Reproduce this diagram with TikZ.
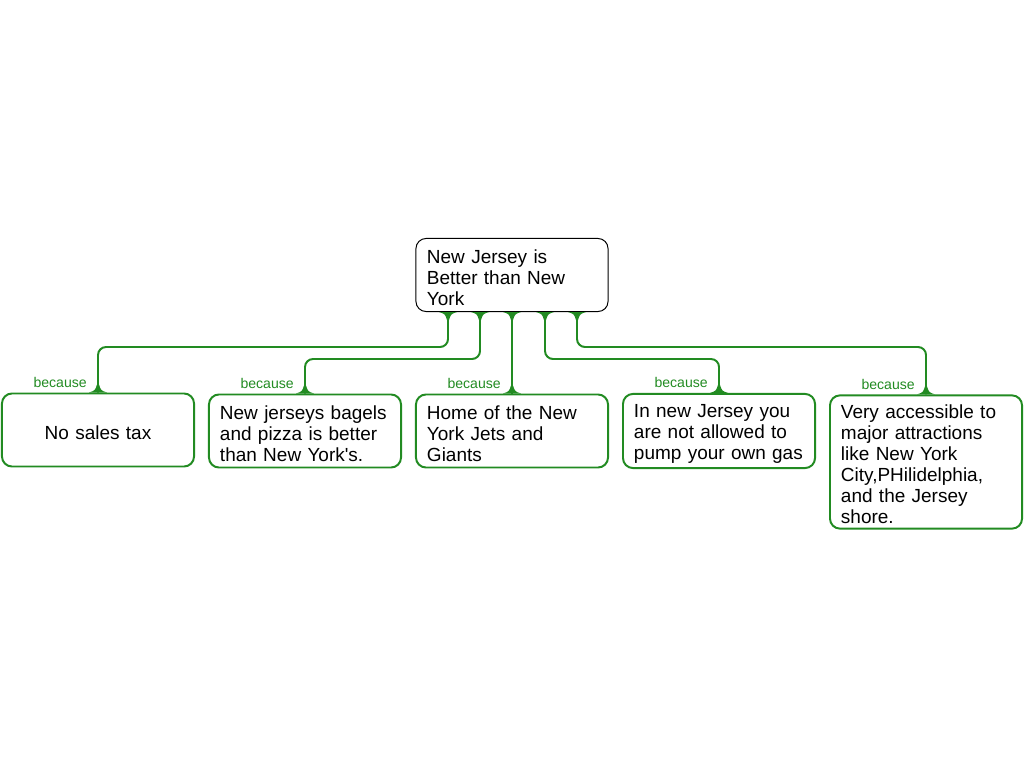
\documentclass[tikz,border=0pt]{standalone}
\usepackage{fontspec}
\setmainfont{Liberation Sans}
\usetikzlibrary{calc}
\definecolor{linkgreen}{RGB}{34,139,34}
\tikzset{
  box/.style={rectangle, rounded corners=0.25cm, text width=4.25cm, inner xsep=0.275cm,
    inner ysep=0.125cm, minimum height=1.825cm, font=\fontsize{13.5}{14.9}\selectfont,
    execute at begin node={\rule{0pt}{13pt}}},
  claim/.style={box, draw=black, line width=0.7pt},
  reason/.style={box, draw=linkgreen, line width=1.4pt},
  link/.style={draw=linkgreen, line width=1.4pt, rounded corners=0.2cm},
  tag/.style={text=linkgreen, font=\fontsize{10}{12}\selectfont, inner sep=0pt, anchor=base east},
  fillet/.pic={\fill[linkgreen] (-9,0) .. controls (-3,-2) .. (-1,-8) -- (1,-8) .. controls (3,-2) .. (9,0) -- cycle;}
}

\begin{document}
\begin{tikzpicture}[x=0.025cm,y=-0.025cm]
\useasboundingbox (0,0) rectangle (1024,768);
\node[claim,align=left] (0) at (512,275) {New Jersey is\\Better than New\\York};
\foreach \n/\x/\y/\a/\t in{
1/98/430/center/{No sales tax},
2/305/431/left/{New jerseys bagels\\and pizza is better\\than New York\textquotesingle s.},
3/512/431/left/{Home of the New\\York Jets and\\Giants},
4/719/431/left/{In new Jersey you\\are not allowed to\\pump your own gas},
5/926/462/left/{Very accessible to\\major attractions\\like New York\\City,PHilidelphia,\\and the Jersey\\shore.}
}
{
        \node[reason,align=\a] (\n) at (\x,\y) {\t};
        \node[tag] at ($(\n.north)+(-11,-5)$) {because};
        \pic at (\n.north) {fillet};
    }
\foreach \n/\d/\h in{1/-64/35, 2/-32/47, 4/33/47, 5/65/35}
{
        \draw[link] ($(0.south)+(\d,0)$) -- ++(0,\h) -| (\n.north);
        \pic[yscale=-1] at ($(0.south)+(\d,0)$) {fillet};
    }
\draw[link] (0.south) -- (3.north);
\pic[yscale=-1] at (0.south) {fillet};
\end{tikzpicture}
\end{document}
